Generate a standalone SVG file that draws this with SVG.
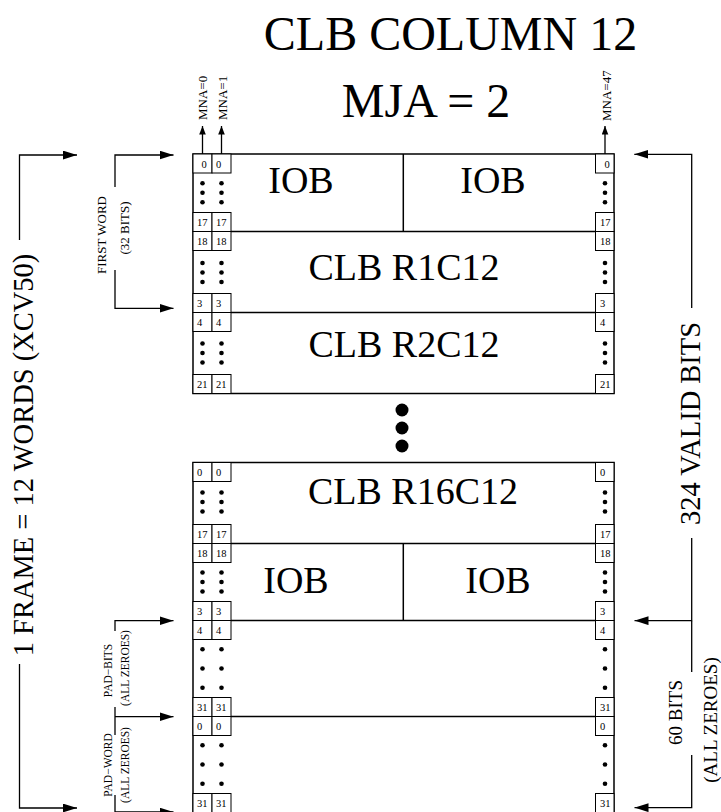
<svg xmlns="http://www.w3.org/2000/svg" width="721" height="812" viewBox="0 0 721 812">
<style>
text{font-family:"Liberation Serif","Times New Roman",serif;fill:#000}
.big{font-size:48px;text-anchor:middle}
.lbl{font-size:38px;text-anchor:middle}
.num{font-size:10.5px}
.mna{font-size:13px}
.side{font-size:28.5px;text-anchor:middle}
.mid{font-size:19px;text-anchor:middle}
.sm{font-size:13px;text-anchor:middle}
.xs{font-size:11.5px;text-anchor:middle}
.box{fill:#fff;stroke:#000;stroke-width:1.5}
.cell{fill:#fff;stroke:#000;stroke-width:1}
.ln{fill:none;stroke:#000;stroke-width:1.3}
.sep{stroke:#000;stroke-width:1.5}
</style>
<defs>
<marker id="ah" markerUnits="userSpaceOnUse" markerWidth="14" markerHeight="9" refX="14" refY="4.4" orient="auto"><path d="M0,0 L14,4.4 L0,8.8 z" fill="#000"/></marker>
<marker id="ahs" markerUnits="userSpaceOnUse" markerWidth="9" markerHeight="7" refX="8.5" refY="3.3" orient="auto"><path d="M0,0 L8.5,3.3 L0,6.6 z" fill="#000"/></marker>
<g id="dots3"><circle cx="0" cy="-9.5" r="2.3"/><circle cx="0" cy="0" r="2.3"/><circle cx="0" cy="9.5" r="2.3"/></g>
<g id="dotsP"><circle cx="0" cy="-19.3" r="2.3"/><circle cx="0" cy="0" r="2.3"/><circle cx="0" cy="19.3" r="2.3"/></g>
</defs>
<rect width="721" height="812" fill="#fff"/>

<g id="title"><text class="big" x="450.5" y="50">CLB COLUMN 12</text></g>
<g id="mja"><text class="big" x="426" y="116.7">MJA = 2</text></g>

<g id="upper-block">
<rect class="box" x="193" y="154" width="421" height="239.5"/>
<line class="sep" x1="193" y1="231.5" x2="614" y2="231.5"/>
<line class="sep" x1="193" y1="312.5" x2="614" y2="312.5"/>
</g>

<g id="iob-top">
<line class="sep" x1="403.3" y1="154" x2="403.3" y2="231.5"/>
<rect class="cell" x="193" y="154" width="19" height="19"/><rect class="cell" x="212" y="154" width="19" height="19"/><rect class="cell" x="595.5" y="154" width="18.5" height="19"/>
<text class="num" x="201.5" y="167.5">0</text><text class="num" x="216" y="167.5">0</text><text class="num" x="604.5" y="167.5">0</text>
<use href="#dots3" x="202.5" y="192.75"/><use href="#dots3" x="221.5" y="192.75"/><use href="#dots3" x="605" y="192.75"/>
<rect class="cell" x="193" y="212.5" width="19" height="19"/><rect class="cell" x="212" y="212.5" width="19" height="19"/><rect class="cell" x="595.5" y="212.5" width="18.5" height="19"/>
<text class="num" x="197" y="226">17</text><text class="num" x="216" y="226">17</text><text class="num" x="600" y="226">17</text>
<text class="lbl" x="301" y="193">IOB</text>
<text class="lbl" x="493" y="193">IOB</text>
</g>

<g id="clb-r1c12">
<rect class="cell" x="193" y="231.5" width="19" height="19"/><rect class="cell" x="212" y="231.5" width="19" height="19"/><rect class="cell" x="595.5" y="231.5" width="18.5" height="19"/>
<text class="num" x="197" y="245">18</text><text class="num" x="216" y="245">18</text><text class="num" x="600" y="245">18</text>
<use href="#dots3" x="202.5" y="272.5"/><use href="#dots3" x="221.5" y="272.5"/><use href="#dots3" x="605" y="272.5"/>
<rect class="cell" x="193" y="293.5" width="19" height="19"/><rect class="cell" x="212" y="293.5" width="19" height="19"/><rect class="cell" x="595.5" y="293.5" width="18.5" height="19"/>
<text class="num" x="197" y="307">3</text><text class="num" x="216" y="307">3</text><text class="num" x="600" y="307">3</text>
<text class="lbl" x="404" y="280">CLB R1C12</text>
</g>

<g id="clb-r2c12">
<rect class="cell" x="193" y="312.5" width="19" height="19"/><rect class="cell" x="212" y="312.5" width="19" height="19"/><rect class="cell" x="595.5" y="312.5" width="18.5" height="19"/>
<text class="num" x="197" y="326">4</text><text class="num" x="216" y="326">4</text><text class="num" x="600" y="326">4</text>
<use href="#dots3" x="202.5" y="353"/><use href="#dots3" x="221.5" y="353"/><use href="#dots3" x="605" y="353"/>
<rect class="cell" x="193" y="374.5" width="19" height="19"/><rect class="cell" x="212" y="374.5" width="19" height="19"/><rect class="cell" x="595.5" y="374.5" width="18.5" height="19"/>
<text class="num" x="197" y="388">21</text><text class="num" x="216" y="388">21</text><text class="num" x="600" y="388">21</text>
<text class="lbl" x="404" y="357">CLB R2C12</text>
</g>

<g id="ellipsis">
<circle cx="402" cy="410" r="6.5"/><circle cx="402" cy="428" r="6.5"/><circle cx="402" cy="446" r="6.5"/>
</g>

<g id="lower-block">
<rect class="box" x="193" y="462.5" width="421" height="351"/>
<line class="sep" x1="193" y1="543.5" x2="614" y2="543.5"/>
<line class="sep" x1="193" y1="620.5" x2="614" y2="620.5"/>
<line class="sep" x1="193" y1="716.5" x2="614" y2="716.5"/>
</g>

<g id="clb-r16c12">
<rect class="cell" x="193" y="462.5" width="19" height="19"/><rect class="cell" x="212" y="462.5" width="19" height="19"/><rect class="cell" x="595.5" y="462.5" width="18.5" height="19"/>
<text class="num" x="197" y="476">0</text><text class="num" x="216" y="476">0</text><text class="num" x="600" y="476">0</text>
<use href="#dots3" x="202.5" y="502"/><use href="#dots3" x="221.5" y="502"/><use href="#dots3" x="605" y="502"/>
<rect class="cell" x="193" y="524.5" width="19" height="19"/><rect class="cell" x="212" y="524.5" width="19" height="19"/><rect class="cell" x="595.5" y="524.5" width="18.5" height="19"/>
<text class="num" x="197" y="538">17</text><text class="num" x="216" y="538">17</text><text class="num" x="600" y="538">17</text>
<text class="lbl" x="413" y="504">CLB R16C12</text>
</g>

<g id="iob-bottom">
<line class="sep" x1="403.3" y1="543.5" x2="403.3" y2="620.5"/>
<rect class="cell" x="193" y="543.5" width="19" height="19"/><rect class="cell" x="212" y="543.5" width="19" height="19"/><rect class="cell" x="595.5" y="543.5" width="18.5" height="19"/>
<text class="num" x="197" y="557">18</text><text class="num" x="216" y="557">18</text><text class="num" x="600" y="557">18</text>
<use href="#dots3" x="202.5" y="582"/><use href="#dots3" x="221.5" y="582"/><use href="#dots3" x="605" y="582"/>
<rect class="cell" x="193" y="601.5" width="19" height="19"/><rect class="cell" x="212" y="601.5" width="19" height="19"/><rect class="cell" x="595.5" y="601.5" width="18.5" height="19"/>
<text class="num" x="197" y="615">3</text><text class="num" x="216" y="615">3</text><text class="num" x="600" y="615">3</text>
<text class="lbl" x="296" y="593">IOB</text>
<text class="lbl" x="498" y="593">IOB</text>
</g>

<g id="pad-bits">
<rect class="cell" x="193" y="620.5" width="19" height="19"/><rect class="cell" x="212" y="620.5" width="19" height="19"/><rect class="cell" x="595.5" y="620.5" width="18.5" height="19"/>
<text class="num" x="197" y="634">4</text><text class="num" x="216" y="634">4</text><text class="num" x="600" y="634">4</text>
<use href="#dotsP" x="202.5" y="668.5"/><use href="#dotsP" x="221.5" y="668.5"/><use href="#dotsP" x="605" y="668.5"/>
<rect class="cell" x="193" y="697.5" width="19" height="19"/><rect class="cell" x="212" y="697.5" width="19" height="19"/><rect class="cell" x="595.5" y="697.5" width="18.5" height="19"/>
<text class="num" x="197" y="711">31</text><text class="num" x="216" y="711">31</text><text class="num" x="600" y="711">31</text>
</g>

<g id="pad-word">
<rect class="cell" x="193" y="716.5" width="19" height="19"/><rect class="cell" x="212" y="716.5" width="19" height="19"/><rect class="cell" x="595.5" y="716.5" width="18.5" height="19"/>
<text class="num" x="197" y="730">0</text><text class="num" x="216" y="730">0</text><text class="num" x="600" y="730">0</text>
<use href="#dotsP" x="202.5" y="764.5"/><use href="#dotsP" x="221.5" y="764.5"/><use href="#dotsP" x="605" y="764.5"/>
<rect class="cell" x="193" y="793.5" width="19" height="19"/><rect class="cell" x="212" y="793.5" width="19" height="19"/><rect class="cell" x="595.5" y="793.5" width="18.5" height="19"/>
<text class="num" x="197" y="807">31</text><text class="num" x="216" y="807">31</text><text class="num" x="600" y="807">31</text>
</g>

<g id="labels">
<text class="mna" transform="translate(207,120) rotate(-90)">MNA=0</text>
<text class="mna" transform="translate(226.5,120) rotate(-90)">MNA=1</text>
<text class="mna" transform="translate(610.5,121) rotate(-90)">MNA=47</text>
<text class="side" transform="translate(33,455) rotate(-90)">1 FRAME = 12 WORDS (XCV50)</text>
<text class="side" transform="translate(700,423.5) rotate(-90)">324 VALID BITS</text>
<text class="mid" transform="translate(681.5,712.5) rotate(-90)">60 BITS</text>
<text class="mid" transform="translate(717,720) rotate(-90)">(ALL ZEROES)</text>
<text class="sm" transform="translate(106,235) rotate(-90)">FIRST WORD</text>
<text class="sm" transform="translate(128.5,228) rotate(-90)">(32 BITS)</text>
<text class="xs" transform="translate(111.5,670.5) rotate(-90)">PAD−BITS</text>
<text class="xs" transform="translate(129,668) rotate(-90)">(ALL ZEROES)</text>
<text class="xs" transform="translate(111.5,765) rotate(-90)">PAD−WORD</text>
<text class="xs" transform="translate(129,765) rotate(-90)">(ALL ZEROES)</text>
</g>

<g id="connectors">
<line class="ln" x1="202.5" y1="154" x2="202.5" y2="126" marker-end="url(#ahs)"/>
<line class="ln" x1="221.5" y1="154" x2="221.5" y2="126" marker-end="url(#ahs)"/>
<line class="ln" x1="605" y1="154" x2="605" y2="126" marker-end="url(#ahs)"/>
<path class="ln" d="M19.5,240 V155 H77" marker-end="url(#ah)"/>
<path class="ln" d="M19.5,664 V808 H77" marker-end="url(#ah)"/>
<path class="ln" d="M115,187 V155 H173.5" marker-end="url(#ah)"/>
<path class="ln" d="M115,270 V308.3 H173.5" marker-end="url(#ah)"/>
<path class="ln" d="M115,631 V620.7 H173.5" marker-end="url(#ah)"/>
<line class="ln" x1="115" y1="707" x2="115" y2="735"/>
<line class="ln" x1="115" y1="716.7" x2="173.5" y2="716.7" marker-end="url(#ah)"/>
<path class="ln" d="M115,795 V812 H173.5" marker-end="url(#ah)"/>
<path class="ln" d="M691.7,308 V154.3 H634.3" marker-end="url(#ah)"/>
<path class="ln" d="M691.7,538 V620.7 H634.5" marker-end="url(#ah)"/>
<line class="ln" x1="691.7" y1="620.7" x2="691.7" y2="672"/>
<path class="ln" d="M691.7,755 V807.7 H634.5" marker-end="url(#ah)"/>
</g>
</svg>
